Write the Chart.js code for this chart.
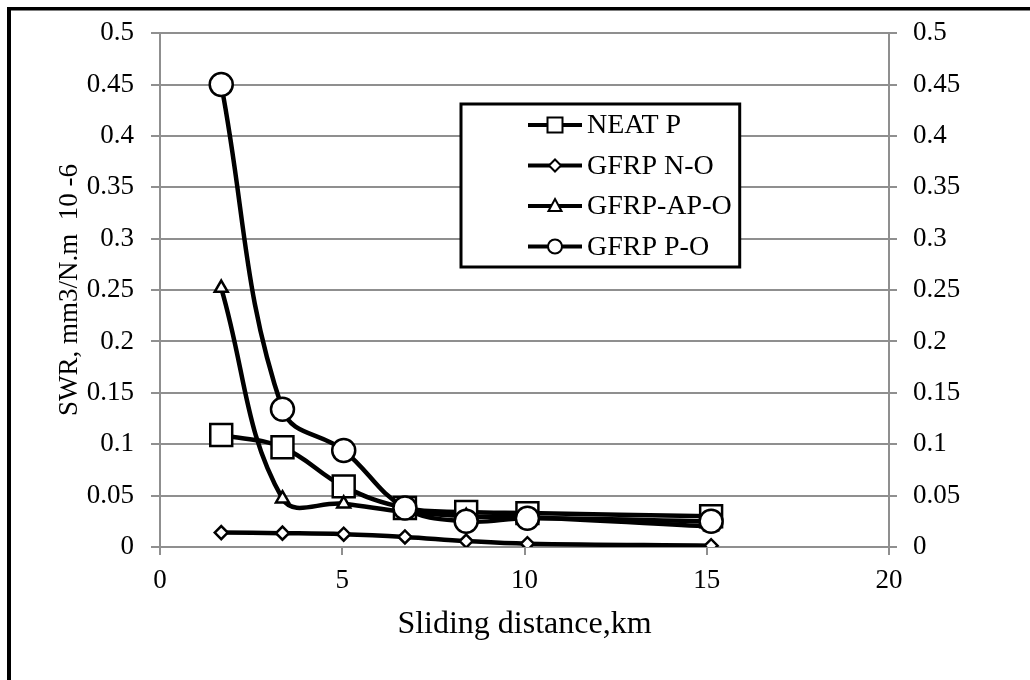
<!DOCTYPE html>
<html>
<head>
<meta charset="utf-8">
<script src="https://cdn.jsdelivr.net/npm/chart.js@4/dist/chart.umd.min.js"></script>
<style>
  html, body { margin: 0; padding: 0; background: #fff; }
  #wrap { width: 1030px; height: 680px; }
</style>
</head>
<body>
<div id="wrap"><canvas id="swrChart" width="1030" height="680"></canvas></div>
<script>
// Sliding distance (km) and specific wear rate values
const distances = [1.68, 3.36, 5.04, 6.72, 8.4, 10.08, 15.12];
const neatP   = [0.109, 0.097, 0.059, 0.038, 0.034, 0.033, 0.030];
const gfrpNO  = [0.014, 0.0135, 0.0125, 0.0098, 0.0058, 0.0032, 0.0013];
const gfrpAPO = [0.252, 0.047, 0.042, 0.034, 0.030, 0.029, 0.020];
const gfrpPO  = [0.45, 0.134, 0.094, 0.038, 0.025, 0.028, 0.025];
const seriesNames = ['NEAT P', 'GFRP N-O', 'GFRP-AP-O', 'GFRP P-O'];

const FONT = "'Liberation Serif', 'Times New Roman', serif";
const GRID = '#8f8f8f';

function pts(values) {
    return values.map((v, i) => ({ x: distances[i], y: v }));
}

function makeSeries(label, values, style, radius, order) {
    return {
        label: label,
        data: pts(values),
        borderColor: '#000',
        borderWidth: 4.5,
        pointStyle: style,
        pointRadius: radius,
        pointHoverRadius: radius,
        pointBackgroundColor: '#fff',
        pointBorderColor: '#000',
        pointBorderWidth: 2.5,
        tension: 0.4,
        fill: false,
        order: order
    };
}

// legend drawn inside the plot, boxed like the original
const boxLegend = {
    id: 'boxLegend',
    afterDraw(chart) {
        const ctx = chart.ctx;
        const left = 461, top = 104, rowH = 40.5;
        ctx.save();
        ctx.font = '28px ' + FONT;
        let maxW = 0;
        seriesNames.forEach(n => { maxW = Math.max(maxW, ctx.measureText(n).width); });
        const right = 587 + maxW + 8;
        ctx.fillStyle = '#fff';
        ctx.fillRect(left, top, right - left, 163);
        ctx.lineWidth = 3;
        ctx.strokeStyle = '#000';
        ctx.strokeRect(left, top, right - left, 163);

        chart.data.datasets.forEach((ds, i) => {
            const y = 125 + i * rowH;
            ctx.beginPath();
            ctx.lineWidth = 4;
            ctx.moveTo(528, y);
            ctx.lineTo(582, y);
            ctx.stroke();

            const cx = 555;
            ctx.beginPath();
            if (ds.pointStyle === 'rect') {
                ctx.rect(cx - 7.5, y - 7.5, 15, 15);
            } else if (ds.pointStyle === 'rectRot') {
                ctx.moveTo(cx - 6, y); ctx.lineTo(cx, y - 6);
                ctx.lineTo(cx + 6, y); ctx.lineTo(cx, y + 6); ctx.closePath();
            } else if (ds.pointStyle === 'triangle') {
                ctx.moveTo(cx, y - 7); ctx.lineTo(cx + 6.5, y + 5);
                ctx.lineTo(cx - 6.5, y + 5); ctx.closePath();
            } else {
                ctx.arc(cx, y, 7, 0, Math.PI * 2);
            }
            ctx.fillStyle = '#fff';
            ctx.fill();
            ctx.lineWidth = 2;
            ctx.stroke();

            ctx.fillStyle = '#000';
            ctx.textBaseline = 'middle';
            ctx.textAlign = 'left';
            ctx.fillText(ds.label, 587, y + 1);
        });
        ctx.restore();
    }
};

// black frame on top and left edges
const frame = {
    id: 'frame',
    afterDraw(chart) {
        const ctx = chart.ctx;
        ctx.save();
        ctx.fillStyle = '#000';
        ctx.fillRect(7, 7, 1030 - 7, 3.5);
        ctx.fillRect(7, 7, 4, 680 - 7);
        ctx.restore();
    }
};

const tickFmt = v => String(Number(v.toFixed(2)));

new Chart(document.getElementById('swrChart'), {
    type: 'line',
    data: {
        datasets: [
            makeSeries(seriesNames[0], neatP, 'rect', 15.5, 4),
            makeSeries(seriesNames[1], gfrpNO, 'rectRot', 6.5, 3),
            makeSeries(seriesNames[2], gfrpAPO, 'triangle', 7.5, 2),
            makeSeries(seriesNames[3], gfrpPO, 'circle', 11.5, 1)
        ]
    },
    options: {
        responsive: false,
        animation: false,
        layout: { padding: { left: 0, right: 0, top: 32, bottom: 0 } },
        plugins: {
            legend: { display: false },
            tooltip: { enabled: false }
        },
        scales: {
            x: {
                type: 'linear',
                min: 0,
                max: 20,
                ticks: {
                    stepSize: 5,
                    padding: 10,
                    color: '#000',
                    font: { family: FONT, size: 27 }
                },
                grid: { drawOnChartArea: false, color: GRID, lineWidth: 2, tickLength: 8 },
                border: { color: GRID, width: 2 },
                title: {
                    display: true,
                    text: 'Sliding distance,km',
                    color: '#000',
                    font: { family: FONT, size: 32 },
                    padding: { top: 0, bottom: 36 }
                },
                afterFit(scale) { scale.height = 133; }
            },
            y: {
                position: 'left',
                min: 0,
                max: 0.5,
                ticks: {
                    stepSize: 0.05,
                    padding: 17,
                    color: '#000',
                    font: { family: FONT, size: 27 },
                    callback: tickFmt
                },
                grid: { color: GRID, lineWidth: 2, tickLength: 9 },
                border: { color: GRID, width: 2 },
                title: {
                    display: true,
                    text: 'SWR, mm3/N.m  10 -6',
                    color: '#000',
                    font: { family: FONT, size: 27 },
                    padding: { top: 54, bottom: 0 }
                },
                afterFit(scale) { scale.width = 160; }
            },
            y2: {
                position: 'right',
                min: 0,
                max: 0.5,
                ticks: {
                    stepSize: 0.05,
                    padding: 16,
                    color: '#000',
                    font: { family: FONT, size: 27 },
                    callback: tickFmt
                },
                grid: { drawOnChartArea: false, color: GRID, lineWidth: 2, tickLength: 8 },
                border: { color: GRID, width: 2 },
                afterFit(scale) { scale.width = 141; }
            }
        }
    },
    plugins: [boxLegend, frame]
});
</script>
</body>
</html>
